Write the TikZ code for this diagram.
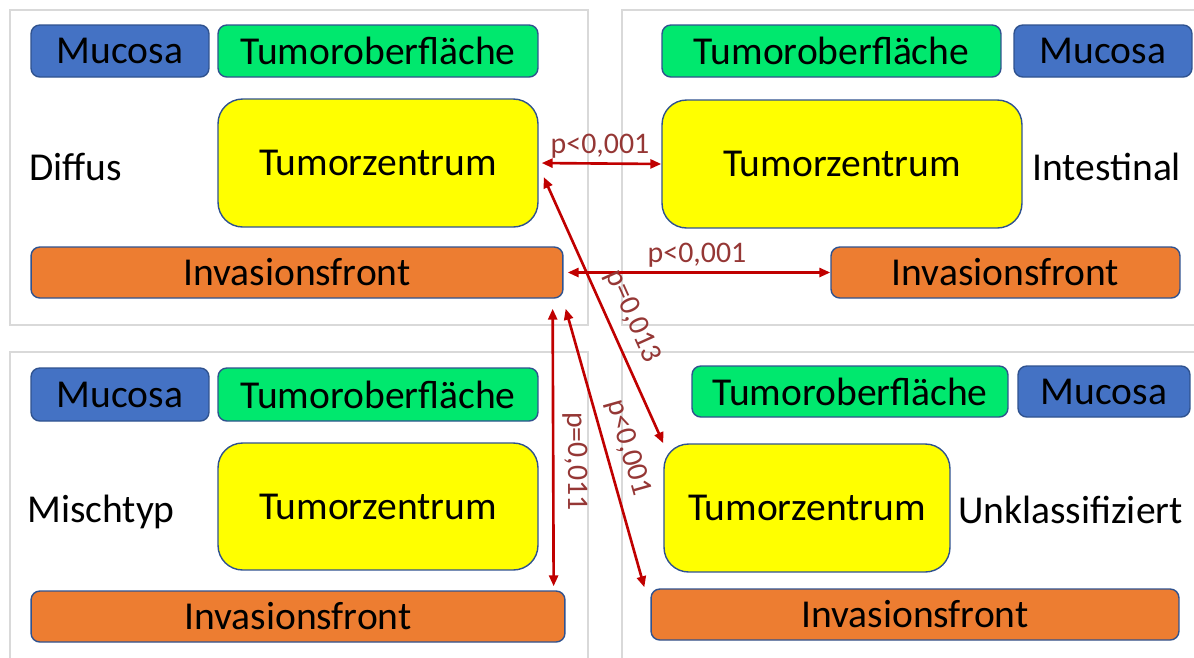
\documentclass[tikz,border=0pt]{standalone}
\usepackage{fontspec}
\setmainfont{Carlito}
\usepackage{tikz}
\usetikzlibrary{arrows.meta, positioning, calc}
\definecolor{mucblue}{RGB}{68,114,196}
\definecolor{surfgreen}{RGB}{0,232,110}
\definecolor{coreyellow}{RGB}{255,255,0}
\definecolor{frontorange}{RGB}{237,125,49}
\definecolor{boxframe}{RGB}{47,82,143}
\definecolor{pred}{RGB}{192,0,0}
\definecolor{ptext}{RGB}{149,55,53}
\definecolor{panelgray}{RGB}{217,217,217}
\tikzset{
  region/.style={rectangle, draw=boxframe, line width=0.8pt, inner sep=0pt,
    font=\fontsize{22.5}{27}\selectfont, text=black},
  mucbox/.style={region, fill=mucblue, rounded corners=5pt},
  surfbox/.style={region, fill=surfgreen, rounded corners=5pt},
  corebox/.style={region, fill=coreyellow, rounded corners=14pt},
  frontbox/.style={region, fill=frontorange, rounded corners=5pt},
  typelabel/.style={anchor=west, inner sep=0pt, font=\fontsize{22.5}{27}\selectfont},
  panel/.style={draw=panelgray, line width=1pt},
  ptip/.tip={Triangle[length=0.22cm, width=0.18cm]},
  parrow/.style={ptip-ptip, line width=1.5pt, color=pred},
  plabel/.style={font=\fontsize{17}{20}\selectfont, text=ptext, inner sep=2pt}
}
\begin{document}
\begin{tikzpicture}[x=0.02cm, y=-0.02cm]
  \useasboundingbox (0,0) rectangle (1194,657);
  \draw[panel] (10,10) rectangle (588,325);
  \draw[panel] (622,10) rectangle (1200,325);
  \draw[panel] (10,352) rectangle (588,665);
  \draw[panel] (622,352) rectangle (1200,665);

  % Diffus
  \node[mucbox, minimum width=3.56cm, minimum height=1.04cm] (tlmuc) at (120,51) {Mucosa};
  \node[surfbox, minimum width=6.4cm, minimum height=1.04cm] (tlsurf) at (378,51) {Tumoroberfläche};
  \node[corebox, minimum width=6.4cm, minimum height=2.56cm] (tlcore) at (378,163) {Tumorzentrum};
  \node[frontbox, minimum width=10.64cm, minimum height=1.02cm] (tlfront) at (297,272.5) {Invasionsfront};
  \node[typelabel] (tltype) at (29,167) {Diffus};

  % Intestinal
  \node[surfbox, minimum width=6.78cm, minimum height=1.04cm] (trsurf) at (831.5,51) {Tumoroberfläche};
  \node[mucbox, minimum width=3.56cm, minimum height=1.04cm] (trmuc) at (1103,51) {Mucosa};
  \node[corebox, minimum width=7.2cm, minimum height=2.56cm] (trcore) at (842,164) {Tumorzentrum};
  \node[frontbox, minimum width=6.98cm, minimum height=1.02cm] (trfront) at (1005.5,272.5) {Invasionsfront};
  \node[typelabel] (trtype) at (1032,167) {Intestinal};

  % Mischtyp
  \node[mucbox, minimum width=3.56cm, minimum height=1.06cm] (blmuc) at (120,394.5) {Mucosa};
  \node[surfbox, minimum width=6.4cm, minimum height=1.06cm] (blsurf) at (378,394.5) {Tumoroberfläche};
  \node[corebox, minimum width=6.4cm, minimum height=2.54cm] (blcore) at (378,506.5) {Tumorzentrum};
  \node[frontbox, minimum width=10.68cm, minimum height=1.02cm] (blfront) at (298,616.5) {Invasionsfront};
  \node[typelabel] (bltype) at (27,512) {Mischtyp};

  % Unklassifiziert
  \node[surfbox, minimum width=6.32cm, minimum height=1.02cm] (brsurf) at (850,391.5) {Tumoroberfläche};
  \node[mucbox, minimum width=3.44cm, minimum height=1.02cm] (brmuc) at (1104,391.5) {Mucosa};
  \node[corebox, minimum width=5.72cm, minimum height=2.56cm] (brcore) at (807,508) {Tumorzentrum};
  \node[frontbox, minimum width=10.56cm, minimum height=1.02cm] (brfront) at (915,614.5) {Invasionsfront};
  \node[typelabel] (brtype) at (958,510) {Unklassifiziert};

  \draw[parrow, shorten <=0.06cm] (tlcore.east) -- node[plabel, above]{p<0,001} (trcore.west);
  \draw[parrow, shorten <=0.08cm] (tlfront.east) -- node[plabel, above]{p<0,001} (trfront.west);
  \draw[parrow] ($(tlcore.east)+(5,14)$) -- node[plabel, sloped, above=4pt, pos=0.56]{p=0,013} (brcore.north west);
  \draw[parrow] ($(tlfront.south east)+(-11,10)$) -- node[plabel, sloped, above=3pt, pos=0.55]{p=0,011} ($(blfront.north east)+(-12,-4)$);
  \draw[parrow] ($(tlfront.south east)+(2,10)$) -- node[plabel, sloped, above=3pt, pos=0.52]{p<0,001} ($(brfront.north west)+(-6,-1)$);
\end{tikzpicture}
\end{document}
